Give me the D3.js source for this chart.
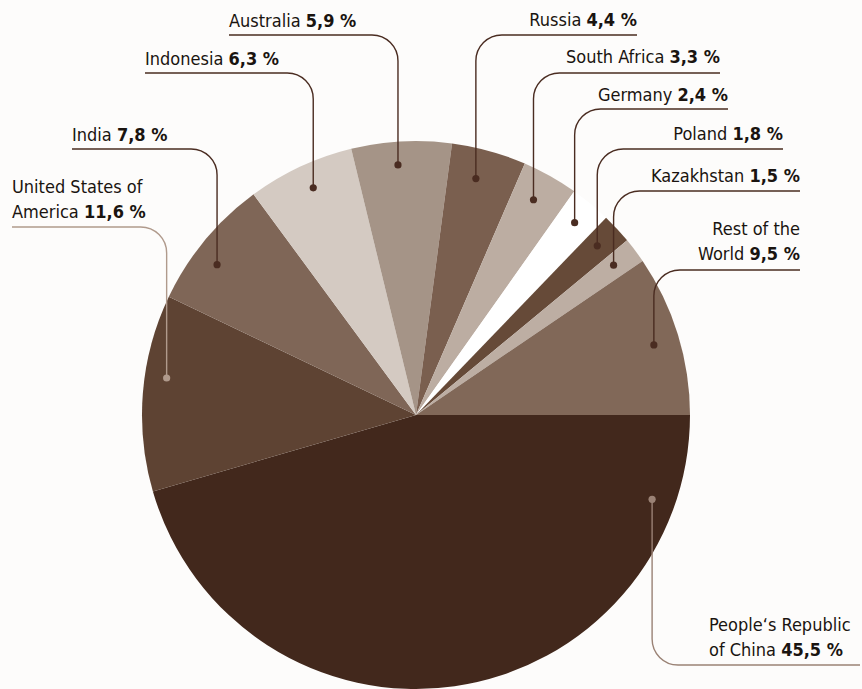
<!DOCTYPE html>
<html>
<head>
<meta charset="utf-8">
<script src="https://cdn.jsdelivr.net/npm/d3@7/dist/d3.min.js"></script>
<style>
  html, body { margin: 0; padding: 0; background: #fdfcfb; }
  svg { display: block; }
  text { font-family: "DejaVu Sans Condensed", "DejaVu Sans", sans-serif; font-stretch: condensed; font-size: 18px; fill: #1a1410; }
  tspan.val { font-weight: bold; }
</style>
</head>
<body>
<svg id="chart" width="862" height="689"></svg>
<script>
// Share of world hard-coal production by country (%)
const countries = [
  "People‘s Republic of China", "United States of America", "India", "Indonesia",
  "Australia", "Russia", "South Africa", "Germany", "Poland", "Kazakhstan", "Rest of the World"
];
const shares = [45.5, 11.6, 7.8, 6.3, 5.9, 4.4, 3.3, 2.4, 1.8, 1.5, 9.5];

// Label text as drawn (name lines; the value is appended to the last line)
const labelLines = [
  ["People‘s Republic", "of China"],
  ["United States of", "America"],
  ["India"], ["Indonesia"], ["Australia"], ["Russia"], ["South Africa"],
  ["Germany"], ["Poland"], ["Kazakhstan"],
  ["Rest of the", "World"]
];

const sliceColors = [
  "#42281c", "#5e4333", "#7f6657", "#d4cac2", "#a59487", "#7a5f4f",
  "#bcada2", "#ffffff", "#664a38", "#bdaea3", "#816858"
];

// Callout layout: text anchor side, text x, first baseline, underline y, far end of underline,
// where along the slice the pointer sits (fraction of its angle) and its radius fraction.
const callouts = [
  { side: "down",  x: 709, y: 631, uy: 665, end: 860, t: 0.12, rf: 0.915, color: "#9a8275" },
  { side: "left",  x: 12,  y: 193, uy: 227, end: 12,  t: 0.59, rf: 0.92,  color: "#b09a8c" },
  { side: "left",  x: 72,  y: 141, uy: 149, end: 72,  t: 0.41, rf: 0.91,  color: "#4a2c21" },
  { side: "left",  x: 145, y: 65,  uy: 73,  end: 145, t: 0.53, rf: 0.91,  color: "#4a2c21" },
  { side: "left",  x: 229, y: 27,  uy: 35,  end: 229, t: 0.45, rf: 0.915, color: "#4a2c21" },
  { side: "right", x: 637, y: 26,  uy: 35,  end: 637, t: 0.42, rf: 0.89,  color: "#4a2c21" },
  { side: "right", x: 720, y: 63,  uy: 73,  end: 720, t: 0.44, rf: 0.895, color: "#4a2c21" },
  { side: "right", x: 728, y: 101, uy: 109, end: 728, t: 0.49, rf: 0.91,  color: "#4a2c21" },
  { side: "right", x: 783, y: 140, uy: 149, end: 783, t: 0.47, rf: 0.905, color: "#4a2c21" },
  { side: "right", x: 800, y: 182, uy: 191, end: 800, t: 0.45, rf: 0.905, color: "#4a2c21" },
  { side: "right", x: 800, y: 235, uy: 270, end: 800, t: 0.52, rf: 0.905, color: "#4a2c21" }
];

const cx = 416, cy = 415, R = 274, corner = 26, lineGap = 25;
const fmt = v => d3.format(".1f")(v).replace(".", ",") + " %";

const svg = d3.select("#chart");
const g = svg.append("g").attr("transform", `translate(${cx},${cy})`);

const pie = d3.pie().sort(null).value(d => d.value)
  .startAngle(Math.PI / 2).endAngle(Math.PI / 2 + 2 * Math.PI);
const data = countries.map((c, i) => ({ name: c, value: shares[i], color: sliceColors[i], lines: labelLines[i], co: callouts[i] }));
const arcs = pie(data);
const arc = d3.arc().innerRadius(0).outerRadius(R);

g.selectAll("path.slice").data(arcs).join("path")
  .attr("class", "slice")
  .attr("d", arc)
  .attr("fill", d => d.data.color);

// Leader lines with rounded corners and a dot inside each slice
arcs.forEach(a => {
  const co = a.data.co;
  const ang = a.startAngle + co.t * (a.endAngle - a.startAngle);
  const px = cx + Math.sin(ang) * R * co.rf;
  const py = cy - Math.cos(ang) * R * co.rf;
  let d;
  if (co.side === "left") {
    d = `M${co.end},${co.uy} H${px - corner} A${corner},${corner} 0 0 1 ${px},${co.uy + corner} V${py}`;
  } else if (co.side === "right") {
    d = `M${co.end},${co.uy} H${px + corner} A${corner},${corner} 0 0 0 ${px},${co.uy + corner} V${py}`;
  } else {
    d = `M${px},${py} V${co.uy - corner} A${corner},${corner} 0 0 0 ${px + corner},${co.uy} H${co.end}`;
  }
  svg.append("path").attr("d", d).attr("fill", "none")
    .attr("stroke", co.color).attr("stroke-width", 1.4);
  svg.append("circle").attr("cx", px).attr("cy", py).attr("r", 3.6).attr("fill", co.color);

  const txt = svg.append("text")
    .attr("text-anchor", co.side === "right" ? "end" : "start");
  a.data.lines.forEach((ln, i) => {
    const last = i === a.data.lines.length - 1;
    const ts = txt.append("tspan").attr("x", co.x).attr("y", co.y + i * lineGap)
      .text(last ? ln + " " : ln);
    if (last) txt.append("tspan").attr("class", "val").text(fmt(a.data.value));
  });
});
</script>
</body>
</html>
